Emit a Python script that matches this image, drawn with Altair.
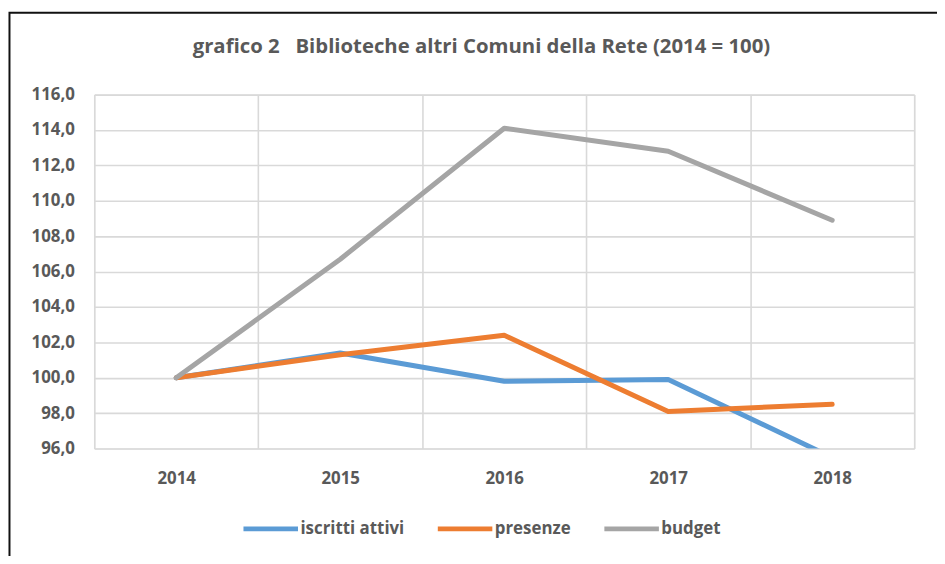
import altair as alt
import pandas as pd

years = ["2014", "2015", "2016", "2017", "2018"]
iscritti = [100.0, 101.4, 99.8, 99.9, 95.5]
presenze = [100.0, 101.3, 102.4, 98.1, 98.5]
budget = [100.0, 106.7, 114.1, 112.8, 108.9]
series_names = ["iscritti attivi", "presenze", "budget"]
series_colors = ["#5B9BD5", "#ED7D31", "#A5A5A5"]
y_ticks = [96, 98, 100, 102, 104, 106, 108, 110, 112, 114, 116]
title_text = "grafico 2\u00a0\u00a0\u00a0Biblioteche altri Comuni della Rete (2014 = 100)"

rows = []
for name, vals in zip(series_names, [iscritti, presenze, budget]):
    for yr, v in zip(years, vals):
        rows.append({"anno": yr, "serie": name, "valore": v})
df = pd.DataFrame(rows)

FONT = "Open Sans"
TXT = "#595959"

lines = alt.Chart(df).mark_line(strokeWidth=5, strokeCap="round", strokeJoin="round", clip=True).encode(
    x=alt.X("anno:O", sort=years,
            scale=alt.Scale(type="band", paddingInner=0, paddingOuter=0),
            axis=alt.Axis(title=None, tickBand="extent", grid=True, ticks=False, domain=False,
                          labelAngle=0, labelPadding=22, labelFont=FONT, labelFontSize=17,
                          labelFontWeight="bold", labelColor=TXT,
                          gridColor="#D9D9D9", gridWidth=1.6)),
    y=alt.Y("valore:Q",
            scale=alt.Scale(domain=[96, 116], nice=False, zero=False),
            axis=alt.Axis(title=None, values=y_ticks, ticks=False, domain=False,
                          labelExpr="replace(format(datum.value, '.1f'), '.', ',')",
                          labelPadding=20, labelFont=FONT, labelFontSize=17,
                          labelFontWeight="bold", labelColor=TXT,
                          gridColor="#D9D9D9", gridWidth=1.6)),
    color=alt.Color("serie:N", sort=series_names,
                    scale=alt.Scale(domain=series_names, range=series_colors),
                    legend=alt.Legend(title=None, orient="none", direction="horizontal",
                                      legendX=148, legendY=408,
                                      symbolType="stroke", symbolSize=3025, symbolStrokeWidth=5,
                                      labelFont=FONT, labelFontSize=17, labelFontWeight="bold",
                                      labelColor=TXT, labelOffset=0, columnPadding=23)),
    order=alt.Order("anno:O"),
)

frame = alt.Chart(alt.Data(values=[{"f": 1}])).mark_rect(
    filled=False, stroke="#111111", strokeWidth=2, clip=False
).encode(
    x=alt.value(-85.5), x2=alt.value(900), y=alt.value(-82.5), y2=alt.value(600)
)

chart = alt.layer(frame, lines).properties(
    width=827,
    height=357,
    autosize=alt.AutoSizeParams(type="none"),
    padding={"left": 87, "top": 85, "right": 23, "bottom": 106},
    title=alt.TitleParams(title_text, font=FONT, fontSize=20.5, fontWeight="bold", color=TXT,
                          anchor="middle", dx=-23, offset=-46),
).configure_view(stroke=None).configure(background="white")

chart.save("out.html", embed_options={"renderer": "svg", "actions": False})
